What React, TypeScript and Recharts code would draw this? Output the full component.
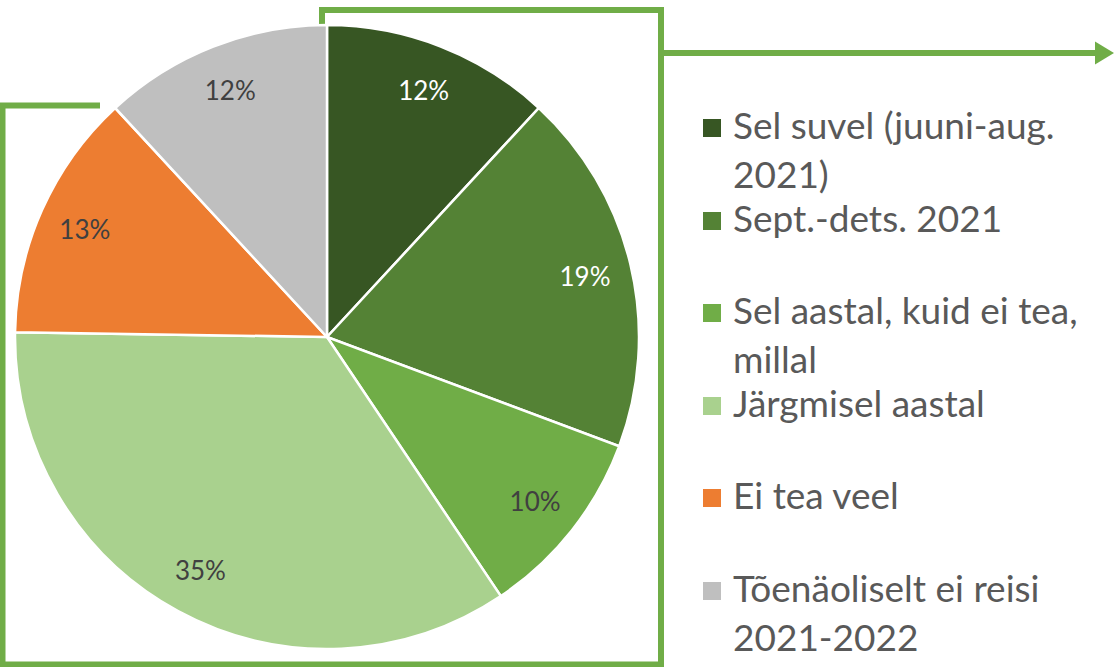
import React from "react";
import { PieChart, Pie, Cell, Legend, Customized } from "recharts";

if (typeof document !== "undefined") document.body.style.margin = "0";

const categories = [
  "Sel suvel (juuni-aug. 2021)",
  "Sept.-dets. 2021",
  "Sel aastal, kuid ei tea, millal",
  "Järgmisel aastal",
  "Ei tea veel",
  "Tõenäoliselt ei reisi 2021-2022",
];
const shares = [12, 19, 10, 35, 13, 12];

const COLORS = ["#375623", "#548235", "#70AD47", "#A9D18E", "#ED7D31", "#BFBFBF"];
const LABEL_COLORS = ["#FFFFFF", "#FFFFFF", "#404040", "#404040", "#404040", "#404040"];
const FRAME = "#70AD47";
const FONT = "Lato, 'Open Sans', sans-serif";

const data = categories.map((name, i) => ({ name, value: shares[i] }));

const RAD = Math.PI / 180;

const renderLabel = (props: any) => {
  const { cx, cy, midAngle, outerRadius, value, index } = props;
  const r = outerRadius * 0.85;
  const x = cx + r * Math.cos(-midAngle * RAD);
  const y = cy + r * Math.sin(-midAngle * RAD);
  return (
    <text
      x={x}
      y={y}
      textAnchor="middle"
      dominantBaseline="central"
      fill={LABEL_COLORS[index]}
      fontSize={26}
      fontFamily={FONT}
    >
      {value}%
    </text>
  );
};

const renderLegend = (props: any) => {
  const payload = [...(props.payload || [])].sort(
    (a: any, b: any) => categories.indexOf(a.value) - categories.indexOf(b.value)
  );
  return (
    <div style={{ fontFamily: FONT, color: "#595959" }}>
      {payload.map((entry: any) => {
        const i = categories.indexOf(entry.value);
        return (
          <div key={entry.value} style={{ position: "relative", height: 92.5 }}>
            <div
              style={{
                position: "absolute",
                left: 0,
                top: 37,
                width: 18,
                height: 18,
                background: COLORS[i],
              }}
            />
            <div
              style={{
                position: "absolute",
                left: 30,
                top: 18,
                width: 370,
                fontSize: 37,
                lineHeight: "49px",
                whiteSpace: "normal",
              }}
            >
              {entry.value}
            </div>
          </div>
        );
      })}
    </div>
  );
};

// green bracket and arrow around the chart
const Frame = () => (
  <g>
    <polyline
      points="100,105.5 2.5,105.5 2.5,664.5 661,664.5 661,10 322,10 322,26"
      fill="none"
      stroke={FRAME}
      strokeWidth={6}
    />
    <line x1={661} y1={53} x2={1097} y2={53} stroke={FRAME} strokeWidth={6} />
    <polygon points="1095,41.5 1114,53 1095,64.5" fill={FRAME} />
  </g>
);

export default function App() {
  return (
    <div style={{ position: "relative", width: 1114, height: 667 }}>
      <PieChart width={1114} height={667} margin={{ top: 0, right: 0, bottom: 0, left: 0 }}>
        <Pie
          data={data}
          dataKey="value"
          nameKey="name"
          cx={327}
          cy={337}
          outerRadius={312}
          startAngle={90}
          endAngle={-270}
          stroke="#FFFFFF"
          strokeWidth={2.5}
          label={renderLabel}
          labelLine={false}
          isAnimationActive={false}
        >
          {data.map((d, i) => (
            <Cell key={d.name} fill={COLORS[i]} />
          ))}
        </Pie>
        <Legend
          layout="vertical"
          align="right"
          verticalAlign="middle"
          content={renderLegend}
          wrapperStyle={{ position: "absolute", left: 703, top: 82, width: 410, right: "auto", bottom: "auto" }}
        />
        <Customized component={Frame} />
      </PieChart>
    </div>
  );
}
